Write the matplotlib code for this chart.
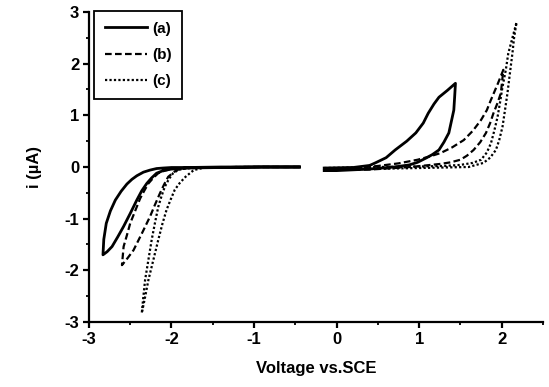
import matplotlib
matplotlib.use("Agg")
from matplotlib import pyplot as plt

plt.rcParams["font.family"] = ["Liberation Sans", "DejaVu Sans"]
plt.rcParams["font.weight"] = "bold"
plt.rcParams["axes.unicode_minus"] = False

# ---------------------------------------------------------------------------
# Data (voltage vs SCE, current in uA)
# ---------------------------------------------------------------------------
a_neg_v = [-0.45, -0.9, -1.4, -1.8, -2.0, -2.1, -2.18, -2.26, -2.34, -2.42, -2.48, -2.54,
           -2.61, -2.68, -2.74, -2.79, -2.82, -2.83, -2.78, -2.72, -2.65, -2.58, -2.50,
           -2.42, -2.36, -2.30, -2.24, -2.18, -2.10, -2.0, -1.8, -1.4, -0.9, -0.45]
a_neg_i = [0.0, 0.0, 0.0, -0.01, -0.01, -0.02, -0.03, -0.06, -0.10, -0.17, -0.24, -0.33,
           -0.47, -0.64, -0.85, -1.09, -1.40, -1.70, -1.64, -1.54, -1.35, -1.15, -0.90,
           -0.64, -0.46, -0.32, -0.21, -0.12, -0.07, -0.04, -0.02, -0.01, 0.0, 0.0]

b_neg_v = [-0.45, -1.2, -1.8, -1.94, -2.04, -2.09, -2.14, -2.20, -2.26, -2.36, -2.46, -2.53,
           -2.60, -2.59, -2.58, -2.54, -2.50, -2.44, -2.38, -2.33, -2.28, -2.22, -2.16,
           -2.08, -2.0, -1.7, -1.0, -0.45]
b_neg_i = [0.0, 0.0, -0.01, -0.06, -0.19, -0.34, -0.51, -0.73, -0.96, -1.29, -1.61, -1.76,
           -1.90, -1.72, -1.54, -1.32, -1.09, -0.85, -0.61, -0.46, -0.32, -0.21, -0.12,
           -0.07, -0.04, -0.01, 0.0, 0.0]

c_neg_v = [-0.45, -1.2, -1.6, -1.73, -1.83, -1.90, -1.96, -2.01, -2.06, -2.11, -2.16, -2.22,
           -2.28, -2.32, -2.36, -2.34, -2.32, -2.28, -2.24, -2.20, -2.16, -2.12, -2.08,
           -2.03, -1.98, -1.92, -1.85, -1.6, -1.0, -0.45]
c_neg_i = [0.0, 0.0, -0.01, -0.06, -0.19, -0.31, -0.44, -0.63, -0.83, -1.10, -1.41, -1.80,
           -2.19, -2.52, -2.83, -2.50, -2.19, -1.80, -1.41, -1.08, -0.77, -0.56, -0.38,
           -0.23, -0.12, -0.06, -0.03, -0.01, 0.0, 0.0]

a_pos_v = [-0.15, 0.2, 0.4, 0.47, 0.6, 0.71, 0.85, 0.96, 1.05, 1.11, 1.18, 1.24, 1.34, 1.44,
           1.43, 1.42, 1.39, 1.36, 1.30, 1.24, 1.16, 1.08, 0.98, 0.88, 0.7, 0.4, 0.0, -0.15]
a_pos_i = [-0.02, -0.01, 0.03, 0.08, 0.18, 0.33, 0.50, 0.66, 0.85, 1.04, 1.22, 1.35, 1.48, 1.62,
           1.35, 1.10, 0.88, 0.66, 0.48, 0.33, 0.24, 0.17, 0.09, 0.04, 0.0, -0.04, -0.07, -0.07]

b_pos_v = [-0.15, 0.3, 0.5, 0.75, 0.98, 1.12, 1.26, 1.40, 1.54, 1.65, 1.75, 1.82, 1.87, 1.95,
           2.02, 1.99, 1.95, 1.90, 1.86, 1.81, 1.74, 1.66, 1.58, 1.50, 1.38, 1.26, 0.9, 0.4, -0.15]
b_pos_i = [-0.03, -0.01, 0.02, 0.07, 0.14, 0.20, 0.27, 0.38, 0.52, 0.70, 0.91, 1.10, 1.30, 1.60,
           1.88, 1.43, 1.24, 1.04, 0.85, 0.66, 0.48, 0.33, 0.22, 0.14, 0.09, 0.06, 0.0, -0.05, -0.06]

c_pos_v = [-0.15, 0.5, 1.0, 1.3, 1.50, 1.65, 1.75, 1.82, 1.87, 1.91, 1.95, 1.98, 2.01, 2.05,
           2.08, 2.13, 2.18, 2.15, 2.13, 2.10, 2.07, 2.04, 2.01, 1.97, 1.93, 1.86, 1.78, 1.6,
           1.0, 0.3, -0.15]
c_pos_i = [-0.02, 0.0, 0.01, 0.02, 0.04, 0.08, 0.14, 0.28, 0.46, 0.70, 0.97, 1.25, 1.55, 1.88,
           2.20, 2.50, 2.80, 2.50, 2.20, 1.82, 1.43, 1.10, 0.78, 0.52, 0.33, 0.18, 0.08, 0.0,
           -0.02, -0.04, -0.04]

labels = ["(a)", "(b)", "(c)"]
xticks = [-3, -2, -1, 0, 1, 2]
yticks = [-3, -2, -1, 0, 1, 2, 3]

# ---------------------------------------------------------------------------
# Plot
# ---------------------------------------------------------------------------
fig = plt.figure(figsize=(5.49, 3.87), dpi=100)
ax = fig.add_axes([0.162, 0.168, 0.827, 0.801])

styles = [
    dict(color="black", lw=2.0, ls="-"),
    dict(color="black", lw=1.6, ls=(0, (3, 1.5))),
    dict(color="black", lw=1.6, ls=(0, (1, 1))),
]

for (v_n, i_n, v_p, i_p), st, lab in zip(
    [(a_neg_v, a_neg_i, a_pos_v, a_pos_i),
     (b_neg_v, b_neg_i, b_pos_v, b_pos_i),
     (c_neg_v, c_neg_i, c_pos_v, c_pos_i)],
    styles, labels,
):
    ax.plot(v_n, i_n, label=lab, **st)
    ax.plot(v_p, i_p, **st)

ax.set_xlim(-3, 2.5)
ax.set_ylim(-3, 3)
ax.set_xticks(xticks)
ax.set_yticks(yticks)
ax.set_xticks([-2.5, -1.5, -0.5, 0.5, 1.5, 2.5], minor=True)
ax.set_yticks([-2.5, -1.5, -0.5, 0.5, 1.5, 2.5], minor=True)

ax.spines["top"].set_visible(False)
ax.spines["right"].set_visible(False)
ax.spines["left"].set_linewidth(1.6)
ax.spines["bottom"].set_linewidth(1.6)
ax.tick_params(axis="both", which="major", direction="out", length=4, width=1.6,
               labelsize=12, pad=3)
ax.tick_params(axis="both", which="minor", direction="out", length=2.5, width=1.3)
for t in ax.get_xticklabels() + ax.get_yticklabels():
    t.set_fontweight("bold")

ax.set_xlabel("Voltage vs.SCE", fontsize=12, fontweight="bold", labelpad=10)
ax.set_ylabel("i (\u00b5A)", fontsize=12, fontweight="bold", labelpad=16)

leg = ax.legend(loc="upper left", bbox_to_anchor=(0.011, 1.003), borderaxespad=0,
                handlelength=2.8, handletextpad=0.3, labelspacing=0.8,
                borderpad=0.7, fancybox=False, framealpha=1.0,
                prop=dict(weight="bold", size=11))
leg.get_frame().set_edgecolor("black")
leg.get_frame().set_linewidth(1.3)

fig.savefig("out.png", dpi=100)
